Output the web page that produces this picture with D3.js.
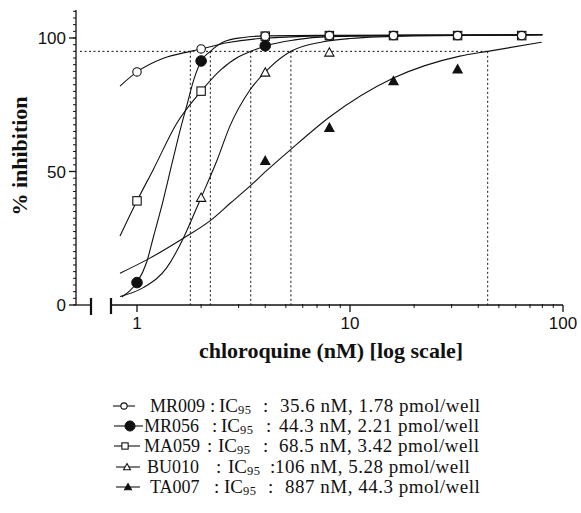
<!DOCTYPE html>
<html><head><meta charset="utf-8">
<script src="https://cdn.jsdelivr.net/npm/d3@7"></script>
<style>body{margin:0;background:#fff}</style>
</head><body>
<svg id="c" width="581" height="513" xmlns="http://www.w3.org/2000/svg"></svg>
<script>
// ---------- data ----------
const strains   = ["MR009", "MR056", "MA059", "BU010", "TA007"];
const ic95nM    = ["35.6", "44.3", "68.5", "106", "887"];
const ic95pmol  = [1.78, 2.21, 3.42, 5.28, 44.3];
const markerTypes = ["circleOpen", "circleFilled", "squareOpen", "triOpen", "triFilled"];

// measured points: [chloroquine nM, % inhibition]
const mr009Pts = [[1, 87.3], [2, 95.9], [4, 100.7], [8, 100.9], [16, 100.9], [32, 100.9], [64, 100.9]];
const mr056Pts = [[1, 8.4], [2, 91.4], [4, 97.1]];
const ma059Pts = [[1, 39.0], [2, 80.1], [4, 100.7], [8, 100.9], [16, 100.9], [32, 100.9], [64, 100.9]];
const bu010Pts = [[2, 40.2], [4, 87.1], [8, 94.6]];
const ta007Pts = [[4, 54.0], [8, 66.4], [16, 83.9], [32, 88.3]];

// fitted curves
const mr009Curve = [[0.832, 82.0], [1.0, 87.3], [1.33, 92.4], [1.78, 95.0], [2.0, 95.9], [2.64, 98.2], [3.78, 99.8], [8, 100.8], [20, 101.0], [80, 101.2]];
const mr056Curve = [[0.848, 3.0], [0.93, 5.5], [1.0, 8.4], [1.11, 16.0], [1.19, 25.0], [1.33, 39.5], [1.46, 53.0], [1.6, 66.0], [1.71, 74.5], [1.85, 84.5], [2.0, 91.4], [2.21, 95.0], [2.54, 98.5], [3.16, 100.2], [4, 100.8], [8, 101.0], [80, 101.2]];
const ma059Curve = [[0.832, 25.8], [1.0, 39.0], [1.19, 50.6], [1.535, 68.0], [2.0, 80.1], [2.45, 87.8], [3.0, 93.0], [3.42, 95.0], [4.06, 97.2], [5.5, 99.3], [8, 100.5], [20, 101.0], [80, 101.2]];
const bu010Curve = [[0.832, 3.2], [1.07, 6.5], [1.38, 14.0], [1.65, 25.0], [1.91, 36.5], [2.0, 40.2], [2.37, 54.0], [2.73, 67.0], [3.39, 80.5], [4.21, 89.0], [5.28, 95.0], [7.5, 98.6], [10, 99.8], [20, 100.8], [80, 101.2]];
const ta007Curve = [[0.832, 11.9], [1.11, 16.9], [1.65, 25.0], [2.2, 31.5], [2.73, 38.0], [3.39, 44.5], [4.06, 50.3], [5.23, 58.0], [8.05, 70.5], [15.9, 84.9], [32.8, 93.2], [44.3, 95.0], [79.4, 98.4]];

const pointSets = [mr009Pts, mr056Pts, ma059Pts, bu010Pts, ta007Pts];
const curveSets = [mr009Curve, mr056Curve, ma059Curve, bu010Curve, ta007Curve];

const xMajorTicks = [1, 10, 100];
const xMinorTicks = [2, 3, 4, 5, 6, 7, 8, 9, 20, 30, 40, 50, 60, 70, 80, 90];
const yMajorTicks = [0, 50, 100];
const yMinorTicks = d3.range(0, 110.01, 2.5);
const ic95Level = 95;

const xTitle = "chloroquine (nM) [log scale]";
const yTitle = "% inhibition";

// ---------- layout ----------
const svg = d3.select("#c");
const x = d3.scaleLog().domain([1, 100]).range([137, 563]);
const y = d3.scaleLinear().domain([0, 100]).range([305, 38]);
const yAxisX = 76;
const xAxisStart = 111;
const ink = "#111";

const g = svg.append("g");

// y axis line
g.append("line").attr("x1", yAxisX).attr("x2", yAxisX).attr("y1", y(0)).attr("y2", y(110.5))
  .attr("stroke", ink).attr("stroke-width", 1.3);
g.selectAll(".ymin").data(yMinorTicks).join("line")
  .attr("x1", yAxisX - 3).attr("x2", yAxisX).attr("y1", d => y(d)).attr("y2", d => y(d))
  .attr("stroke", ink).attr("stroke-width", 1);
g.selectAll(".ymaj").data(yMajorTicks).join("line")
  .attr("x1", yAxisX - 7).attr("x2", yAxisX).attr("y1", d => y(d)).attr("y2", d => y(d))
  .attr("stroke", ink).attr("stroke-width", 1.3);
g.selectAll(".ylab").data(yMajorTicks).join("text")
  .attr("x", yAxisX - 10).attr("y", d => y(d) + 6)
  .attr("text-anchor", "end").attr("font-family", "Liberation Sans, Arial, sans-serif")
  .attr("font-size", 17).attr("fill", ink).text(d => d);

// broken x axis
g.append("line").attr("x1", yAxisX).attr("x2", 91).attr("y1", y(0)).attr("y2", y(0))
  .attr("stroke", ink).attr("stroke-width", 1.3);
g.append("line").attr("x1", 91).attr("x2", 91).attr("y1", y(0) - 7).attr("y2", y(0) + 10)
  .attr("stroke", ink).attr("stroke-width", 2.2);
g.append("line").attr("x1", xAxisStart).attr("x2", xAxisStart).attr("y1", y(0) - 7).attr("y2", y(0) + 9)
  .attr("stroke", ink).attr("stroke-width", 2.2);
g.append("line").attr("x1", xAxisStart).attr("x2", x(100)).attr("y1", y(0)).attr("y2", y(0))
  .attr("stroke", ink).attr("stroke-width", 1.3);
g.selectAll(".xmin").data(xMinorTicks).join("line")
  .attr("x1", d => x(d)).attr("x2", d => x(d)).attr("y1", y(0) - 1).attr("y2", y(0) + 3)
  .attr("stroke", ink).attr("stroke-width", 1);
g.selectAll(".xmaj").data(xMajorTicks).join("line")
  .attr("x1", d => x(d)).attr("x2", d => x(d)).attr("y1", y(0)).attr("y2", y(0) + 7)
  .attr("stroke", ink).attr("stroke-width", 1.3);
g.selectAll(".xlab").data(xMajorTicks).join("text")
  .attr("x", d => x(d)).attr("y", y(0) + 24)
  .attr("text-anchor", "middle").attr("font-family", "Liberation Sans, Arial, sans-serif")
  .attr("font-size", 17).attr("fill", ink).text(d => d);

// titles
g.append("text").attr("x", 331).attr("y", 358).attr("text-anchor", "middle")
  .attr("font-family", "Liberation Serif, Times New Roman, serif").attr("font-weight", "bold")
  .attr("font-size", 22).attr("fill", ink).text(xTitle);
g.append("text").attr("transform", "translate(27,156) rotate(-90)").attr("text-anchor", "middle")
  .attr("font-family", "Liberation Serif, Times New Roman, serif").attr("font-weight", "bold")
  .attr("font-size", 22).attr("fill", ink).text(yTitle);

// dotted IC95 guides
g.append("line").attr("x1", 80).attr("x2", x(d3.max(ic95pmol))).attr("y1", y(ic95Level)).attr("y2", y(ic95Level))
  .attr("stroke", ink).attr("stroke-width", 1).attr("stroke-dasharray", "2,2.5");
g.selectAll(".vguide").data(ic95pmol).join("line")
  .attr("x1", d => x(d)).attr("x2", d => x(d)).attr("y1", y(ic95Level)).attr("y2", y(0))
  .attr("stroke", ink).attr("stroke-width", 1).attr("stroke-dasharray", "2,2.5");

// curves
const line = d3.line().x(d => x(d[0])).y(d => y(d[1])).curve(d3.curveMonotoneX);
g.selectAll(".curve").data(curveSets).join("path")
  .attr("d", line).attr("fill", "none").attr("stroke", ink).attr("stroke-width", 1.1);

// markers
function drawMarker(sel, type, cx, cy, s) {
  if (type === "circleOpen") {
    sel.append("circle").attr("cx", cx).attr("cy", cy).attr("r", 4.2 * s)
      .attr("fill", "#fff").attr("stroke", ink).attr("stroke-width", 1.1);
  } else if (type === "circleFilled") {
    sel.append("circle").attr("cx", cx).attr("cy", cy).attr("r", 5.3 * s)
      .attr("fill", ink).attr("stroke", ink);
  } else if (type === "squareOpen") {
    const h = 4.2 * s;
    sel.append("rect").attr("x", cx - h).attr("y", cy - h).attr("width", 2 * h).attr("height", 2 * h)
      .attr("fill", "#fff").attr("stroke", ink).attr("stroke-width", 1.1);
  } else {
    const h = 4.6 * s;
    sel.append("path").attr("d", `M${cx},${cy - h}L${cx + h},${cy + h * 0.8}L${cx - h},${cy + h * 0.8}Z`)
      .attr("fill", type === "triFilled" ? ink : "#fff").attr("stroke", ink).attr("stroke-width", 1.1);
  }
}
const drawOrder = [4, 3, 2, 0, 1];
const mg = g.append("g");
drawOrder.forEach(i => {
  pointSets[i].forEach(p => drawMarker(mg, markerTypes[i], x(p[0]), y(p[1]), 1));
});

// legend (layout positions per row)
const legendY = [412, 432, 452, 473, 493];
const nameX   = [150, 144, 144, 147, 150];
const colonX  = [210, 212, 207, 216, 214];
const icX     = [219, 221, 218, 228, 224];
const colon2X = [263, 266, 263, 270, 268];
const valX    = [280, 279, 279, 275, 285];
const symX1   = [113, 114, 114, 116, 116];
const symX2   = [135, 143, 140, 140, 140];
const symCX   = [124, 130, 125, 127, 128];
const lg = svg.append("g").attr("font-family", "Liberation Serif, Times New Roman, serif")
  .attr("fill", ink);
strains.forEach((name, i) => {
  const yy = legendY[i] - 6;
  lg.append("line").attr("x1", symX1[i]).attr("x2", symX2[i]).attr("y1", yy).attr("y2", yy)
    .attr("stroke", ink).attr("stroke-width", 1.1);
  drawMarker(lg, markerTypes[i], symCX[i], yy, markerTypes[i] === "circleFilled" ? 0.95 : 0.75);
  lg.append("text").attr("x", nameX[i]).attr("y", legendY[i]).attr("font-size", 18).text(name);
  lg.append("text").attr("x", colonX[i]).attr("y", legendY[i]).attr("font-size", 19).text(":");
  const ic = lg.append("text").attr("x", icX[i]).attr("y", legendY[i]).attr("font-size", 19);
  ic.append("tspan").text("IC");
  ic.append("tspan").attr("font-size", 12.5).attr("dy", 1.5).attr("letter-spacing", 0.5).text("95");
  lg.append("text").attr("x", colon2X[i]).attr("y", legendY[i]).attr("font-size", 19).text(":");
  lg.append("text").attr("x", valX[i]).attr("y", legendY[i]).attr("font-size", 19)
    .attr("letter-spacing", 0.5)
    .text(`${ic95nM[i]} nM, ${ic95pmol[i]} pmol/well`);
});
</script>
</body></html>
